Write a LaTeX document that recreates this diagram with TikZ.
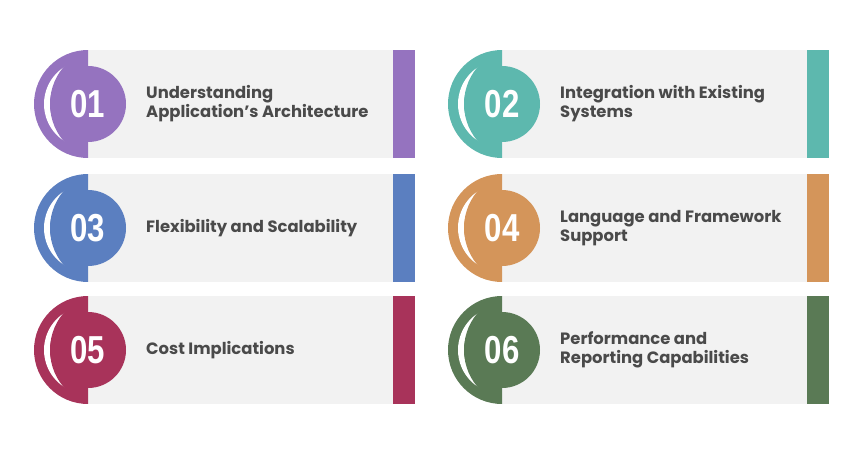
\documentclass[tikz,border=0pt]{standalone}
\usepackage{fontspec}
\setmainfont{Poppins}
\newfontfamily\numfont{Liberation Sans}
\usepackage{xcolor}
\usetikzlibrary{positioning}
\definecolor{cardgray}{HTML}{F2F2F2}
\definecolor{textgray}{HTML}{4A4A4A}
\definecolor{cpurple}{HTML}{9573BF}
\definecolor{cteal}{HTML}{5DB8AE}
\definecolor{cblue}{HTML}{5B7FC0}
\definecolor{corange}{HTML}{D4955A}
\definecolor{ccrimson}{HTML}{A8335A}
\definecolor{cgreen}{HTML}{5A7A55}

\begin{document}
\begin{tikzpicture}[
x=1pt, y=1pt,
numdisc/.style={
circle,
minimum size=76pt,
inner sep=0pt,
text=white,
font=\numfont\bfseries\fontsize{39}{39}\selectfont
},
label/.style={
anchor=west,
align=left,
inner sep=0pt,
text=textgray,
font=\bfseries\fontsize{16.4}{19}\selectfont
}
]

\useasboundingbox (0,0) rectangle (866,453);
\fill[white] (0,0) rectangle (866,453);

\foreach \cx/\cy/\col/\num/\txt in {
88/349/cpurple/01/{Understanding\\Application's Architecture},
502/349/cteal/02/{Integration with Existing\\Systems},
88/225/cblue/03/{Flexibility and Scalability},
502/225/corange/04/{Language and Framework\\Support},
88/103/ccrimson/05/{Cost Implications},
502/103/cgreen/06/{Performance and\\Reporting Capabilities}}{
% card and side bar
\fill[cardgray] (\cx,\cy-54) rectangle (\cx+305,\cy+54);
\fill[\col] (\cx+305,\cy-54) rectangle (\cx+327,\cy+54);
% half disc with white crescent
\begin{scope}
\clip (\cx,\cy+54) arc[start angle=90, end angle=270, radius=54pt] -- cycle;
\fill[\col] (\cx-54,\cy-54) rectangle (\cx,\cy+54);
\fill[white] (\cx,\cy) circle[radius=44pt];
\fill[\col] (\cx+19.3,\cy) circle[radius=57.3pt];
\end{scope}
\node[numdisc, fill=\col] (num\num) at (\cx,\cy)
{\scalebox{0.8}[1]{\num}};
\node[label] (txt\num) at (\cx+58,\cy) {\txt};
}

\end{tikzpicture}
\end{document}
